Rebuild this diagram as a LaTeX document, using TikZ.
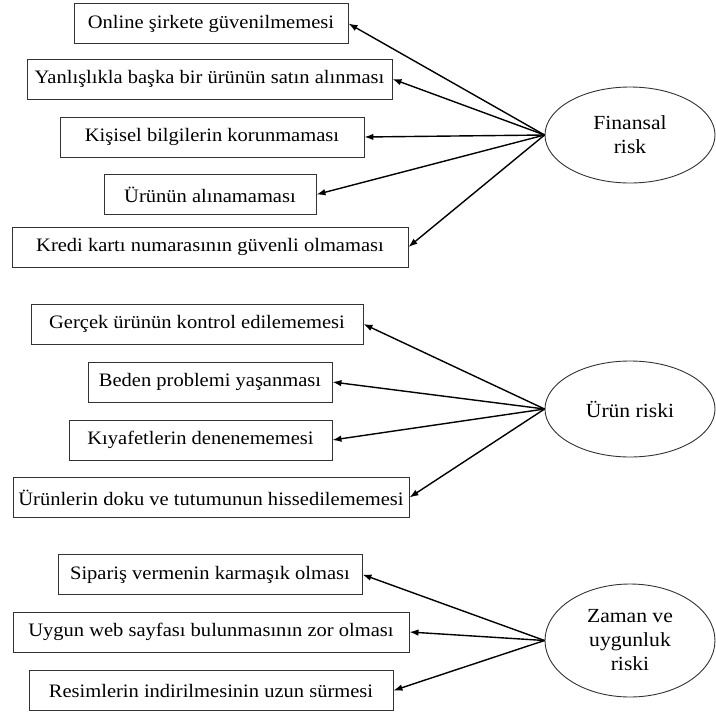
\documentclass[tikz,border=0pt]{standalone}
\usepackage{fontspec}
\setmainfont{Liberation Serif}[FakeStretch=1.08]
\usetikzlibrary{shapes.geometric,arrows.meta}

\begin{document}
\begin{tikzpicture}[x=1pt, y=-1pt,
    >={Latex[length=9pt,width=6.5pt]},
    item/.style={draw=black!80, line width=0.9pt, minimum height=40pt, inner sep=0pt,
                 font=\fontsize{19}{22}\selectfont},
    risk/.style={ellipse, draw=black!80, line width=0.9pt, minimum width=170pt,
                 minimum height=96pt, inner sep=0pt, align=center,
                 font=\fontsize{20}{24}\selectfont},
    link/.style={->, line width=1.4pt}]
      \useasboundingbox (0,0) rectangle (716,713);
      %\draw [dotted] (0,0) grid[step=50] (716,713);
      % Finansal risk
      \node [risk]                      (fin) at (630, 135)   {Finansal\\risk};
      \node [item, minimum width=274pt]  (f1) at (211, 23.5)  {Online şirkete güvenilmemesi};
      \node [item, minimum width=365pt]  (f2) at (209.5, 79)  {Yanlışlıkla başka bir ürünün satın alınması};
      \node [item, minimum width=304pt]  (f3) at (212, 137)   {Kişisel bilgilerin korunmaması};
      \node [item, minimum width=212pt]  (f4) at (210, 194.5) {Ürünün alınamaması};
      \node [item, minimum width=396pt]  (f5) at (210, 247)   {Kredi kartı numarasının güvenli olmaması};
      % Ürün riski
      \node [risk]                      (urn) at (630, 409)   {Ürün riski};
      \node [item, minimum width=332pt]  (u1) at (197, 324)   {Gerçek ürünün kontrol edilememesi};
      \node [item, minimum width=244pt]  (u2) at (210, 382)   {Beden problemi yaşanması};
      \node [item, minimum width=263pt]  (u3) at (200.5, 440) {Kıyafetlerin denenememesi};
      \node [item, minimum width=396pt]  (u4) at (211, 497.5) {Ürünlerin doku ve tutumunun hissedilememesi};
      % Zaman ve uygunluk riski
      \node [risk, minimum height=113pt] (zmn) at (630, 640.5) {Zaman ve\\uygunluk\\riski};
      \node [item, minimum width=304pt]  (z1) at (210, 574.5) {Sipariş vermenin karmaşık olması};
      \node [item, minimum width=396pt]  (z2) at (211, 632)   {Uygun web sayfası bulunmasının zor olması};
      \node [item, minimum width=364pt]  (z3) at (211, 690.5) {Resimlerin indirilmesinin uzun sürmesi};
      \foreach \b in {f1,f2,f3,f4,f5}
        \draw [link] (fin.west) -- (\b.east);
      \foreach \b in {u1,u2,u3,u4}
        \draw [link] (urn.west) -- (\b.east);
      \foreach \b in {z1,z2,z3}
        \draw [link] (zmn.west) -- (\b.east);
\end{tikzpicture}
\end{document}
